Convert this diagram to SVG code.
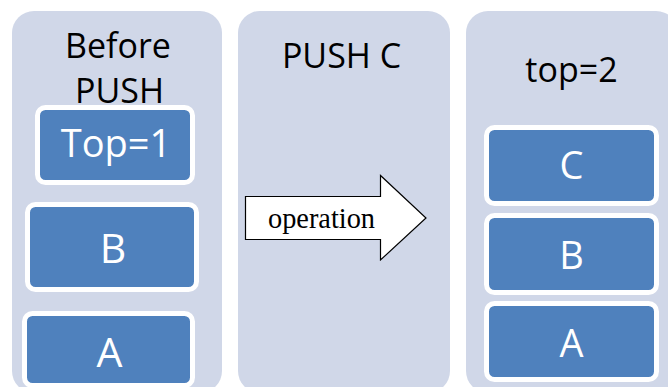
<svg xmlns="http://www.w3.org/2000/svg" width="668" height="387" viewBox="0 0 668 387">
<style>
.col{fill:#D0D7E8;}
.box{fill:#4F81BD;stroke:#FFFFFF;stroke-width:5;}
.ht{font-family:"Open Sans","Liberation Sans",sans-serif;font-size:34px;fill:#000000;text-anchor:middle;}
.bt{font-family:"Open Sans","Liberation Sans",sans-serif;fill:#FFFFFF;text-anchor:middle;}
.op{font-family:"Liberation Serif","DejaVu Serif",serif;font-size:28.5px;fill:#000000;}
</style>
<rect width="668" height="387" fill="#FFFFFF"/>
<g id="col-before">
<rect class="col" x="12" y="11" width="210" height="382" rx="22"/>
<text class="ht" x="118" y="58">Before</text>
<text class="ht" x="119.5" y="103">PUSH</text>
</g>
<g id="col-push">
<rect class="col" x="238" y="11" width="212" height="382" rx="22"/>
<text class="ht" x="341.5" y="68">PUSH C</text>
</g>
<g id="col-after">
<rect class="col" x="466" y="11" width="212" height="382" rx="22"/>
<text class="ht" x="571.5" y="82">top=2</text>
</g>
<g id="left-top">
<rect class="box" x="37.5" y="107.5" width="155" height="75" rx="8"/>
<text class="bt" x="116" y="157" font-size="38">Top=1</text>
</g>
<g id="left-b">
<rect class="box" x="27.5" y="204.5" width="169" height="85" rx="8"/>
<text class="bt" x="113" y="263" font-size="41">B</text>
</g>
<g id="left-a">
<rect class="box" x="24.5" y="313.5" width="168" height="72" rx="8"/>
<text class="bt" x="109.5" y="367" font-size="41">A</text>
</g>
<g id="right-c">
<rect class="box" x="486.5" y="127.5" width="170" height="76" rx="8"/>
<text class="bt" x="571.5" y="179" font-size="38">C</text>
</g>
<g id="right-b">
<rect class="box" x="486.5" y="215.5" width="170" height="77" rx="8"/>
<text class="bt" x="571.5" y="269" font-size="38">B</text>
</g>
<g id="right-a">
<rect class="box" x="486.5" y="303.5" width="170" height="76" rx="8"/>
<text class="bt" x="571.5" y="357" font-size="38">A</text>
</g>
<g id="connectors">
<g id="operation-arrow">
<polygon points="245.5,196.5 380.5,196.5 380.5,175.5 426,218 380.5,260 380.5,239.5 245.5,239.5" fill="#FFFFFF" stroke="#000000" stroke-width="1.2"/>
<text class="op" x="268" y="228" textLength="107" lengthAdjust="spacingAndGlyphs">operation</text>
</g>
</g>
</svg>
